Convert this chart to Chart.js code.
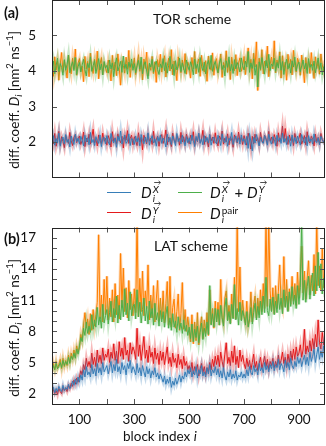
<!DOCTYPE html>
<html>
<head>
<meta charset="utf-8">
<script src="https://cdn.jsdelivr.net/npm/chart.js@4/dist/chart.umd.min.js"></script>
<style>
body{margin:0;width:326px;height:446px;position:relative;background:#fff;overflow:hidden;font-family:Lato,"DejaVu Sans",sans-serif;color:#111}
canvas{position:absolute;left:0}
.t{position:absolute;white-space:nowrap;font-size:14px;line-height:14px}
.tag{font-weight:bold;font-size:14.5px}
.ylab{position:absolute;white-space:nowrap;font-size:13.5px;transform:translate(-50%,-50%) rotate(-90deg)}
.ylab sup{font-size:9.5px;vertical-align:6px;line-height:0}
.ylab sub{font-size:9.5px;vertical-align:-3px;line-height:0}
.sw{position:absolute;width:24px;height:0;border-top:1.5px solid}
.m{position:absolute;white-space:nowrap;font-size:15px;line-height:15px}
.ss{display:inline-block;position:relative;width:10px;height:1px;vertical-align:baseline}
.sp,.sb{position:absolute;left:1px;font-size:10px;line-height:10px}
.sp{bottom:4px}
.sb{bottom:-5px;font-style:italic}
.vec{position:relative;font-style:italic}
.vec:before{content:"\2192";position:absolute;left:1px;top:-5px;font-size:7.5px;font-style:normal}
</style>
</head>
<body>
<canvas id="torChart" width="326" height="180" style="top:0"></canvas>
<canvas id="latChart" width="326" height="226" style="top:220px"></canvas>

<div class="t tag" style="left:4px;top:6px">(a)</div>
<div class="t tag" style="left:4px;top:232px">(b)</div>
<div class="t" style="left:153px;top:12px">TOR scheme</div>
<div class="t" style="left:154px;top:239px">LAT scheme</div>
<div class="ylab" style="left:14px;top:100px">diff. coeff. <i>D<sub>i</sub></i> [nm<sup>2</sup> ns<sup>−1</sup>]</div>
<div class="ylab" style="left:14px;top:328px">diff. coeff. <i>D<sub>i</sub></i> [nm<sup>2</sup> ns<sup>−1</sup>]</div>
<div class="t" style="left:123px;top:429px;font-size:13.5px">block index <i>i</i></div>

<div class="sw" style="left:107px;top:192px;border-color:#377eb8"></div>
<div class="sw" style="left:107px;top:212px;border-color:#e41a1c"></div>
<div class="sw" style="left:178px;top:192px;border-color:#4daf4a"></div>
<div class="sw" style="left:178px;top:212px;border-color:#ff7f00"></div>
<div class="m" style="left:141px;top:185px"><i>D</i><span class="ss"><span class="sp"><span class="vec">X</span></span><span class="sb">i</span></span></div>
<div class="m" style="left:141px;top:206px"><i>D</i><span class="ss"><span class="sp"><span class="vec">Y</span></span><span class="sb">i</span></span></div>
<div class="m" style="left:210px;top:185px"><i>D</i><span class="ss"><span class="sp"><span class="vec">X</span></span><span class="sb">i</span></span> + <i>D</i><span class="ss"><span class="sp"><span class="vec">Y</span></span><span class="sb">i</span></span></div>
<div class="m" style="left:210px;top:206px"><i>D</i><span class="ss" style="width:20px"><span class="sp">pair</span><span class="sb">i</span></span></div>

<script>
// block index of every stored value (every 5th block)
var blockIndex = [];
for (var k = 0; k < 200; k++) blockIndex.push(k * 5);

// (a) TOR scheme
var torDx = [
2.02,2.18,1.91,2.10,1.97,2.25,1.88,2.06,2.14,1.95,2.21,1.99,2.08,1.86,2.17,2.03,1.93,2.22,2.01,2.11,
1.94,2.16,2.05,1.89,2.19,2.00,2.12,1.92,2.27,1.98,2.07,1.90,2.15,2.04,1.96,2.20,1.87,2.09,2.13,1.95,
2.18,2.01,1.92,2.24,2.06,1.97,2.11,1.85,2.16,2.03,2.31,1.94,2.08,2.19,1.96,2.02,2.23,1.90,2.10,2.05,
1.93,2.17,2.00,2.12,1.89,2.21,2.04,1.95,2.14,1.99,2.26,1.91,2.07,2.18,1.97,2.09,1.88,2.15,2.02,2.20,
1.96,2.11,2.04,1.86,2.22,2.00,2.13,1.93,2.17,2.06,1.90,2.24,2.01,2.10,1.95,2.19,2.03,1.89,2.15,1.98,
2.12,1.94,2.20,2.05,1.87,2.16,2.02,2.25,1.96,2.09,1.92,2.18,2.00,2.13,1.97,2.21,1.91,2.07,2.14,2.01,
1.95,2.19,2.06,1.90,2.23,2.03,1.98,2.15,1.88,2.11,2.04,2.27,1.93,2.08,2.17,1.99,2.12,1.94,2.20,2.02,
2.09,1.92,2.16,1.82,2.24,2.00,1.75,2.13,1.97,2.21,2.05,1.89,2.14,2.01,1.96,2.18,2.07,1.91,2.22,2.03,
1.94,2.15,2.08,1.90,2.19,2.02,2.12,1.96,2.25,2.00,2.10,1.93,2.16,2.05,1.88,2.20,1.99,2.13,1.95,2.17,
2.04,1.91,2.21,2.06,1.97,2.14,1.89,2.18,2.01,2.09,1.94,2.23,2.03,1.98,2.12,1.92,2.16,2.07,1.99,2.05];
var torDy = [
2.12,1.95,2.24,1.88,2.07,2.30,1.92,2.15,2.01,1.84,2.19,2.06,1.96,2.27,2.03,1.90,2.13,2.21,1.98,2.09,
2.17,1.93,2.05,2.28,1.87,2.11,2.00,2.22,1.94,2.14,2.36,1.97,2.08,1.89,2.20,2.04,1.95,2.25,2.02,2.10,
1.91,2.18,2.06,1.86,2.29,2.01,2.12,1.94,2.23,2.07,1.98,2.16,1.83,2.20,2.05,2.32,1.96,2.10,2.19,1.92,
2.15,2.03,1.90,2.26,2.00,2.13,1.78,2.19,2.08,1.95,2.24,2.02,2.11,1.93,2.30,1.99,2.06,2.17,1.88,2.12,
2.21,1.96,2.09,2.34,1.92,2.14,2.03,1.87,2.25,2.05,1.98,2.18,2.10,1.91,2.27,2.00,2.15,1.94,2.22,2.07,
1.95,2.19,2.04,2.29,1.90,2.12,2.01,2.24,1.97,2.08,2.33,1.93,2.16,2.05,1.86,2.21,2.03,2.14,1.96,2.26,
2.02,1.89,2.17,2.07,2.31,1.94,2.11,2.00,2.23,1.92,2.15,2.06,1.85,2.20,2.09,1.97,2.28,2.01,2.13,1.93,
2.18,2.04,1.91,2.25,2.08,1.80,2.16,1.95,2.22,2.03,2.12,1.90,2.27,2.05,1.98,2.19,2.10,1.94,2.30,2.02,
2.14,1.96,2.21,2.07,1.88,2.26,2.01,2.13,2.45,1.99,2.38,2.06,1.93,2.20,2.04,2.15,1.90,2.24,2.08,1.97,
2.11,2.25,1.94,2.05,2.18,1.92,2.29,2.03,1.97,2.16,2.08,1.89,2.22,2.01,2.13,1.95,2.24,2.06,2.00,2.10];
var torDsum = [
4.05,4.28,3.92,4.15,4.36,3.98,4.21,4.10,3.88,4.32,4.02,4.19,4.45,3.95,4.14,4.26,4.01,4.38,3.90,4.12,
4.24,3.97,4.17,4.33,4.04,3.86,4.22,4.09,4.40,3.99,4.15,4.29,3.93,4.11,4.35,4.03,4.20,3.89,4.27,4.08,
4.16,3.94,4.31,4.06,4.23,3.84,4.18,4.37,4.00,4.13,4.27,3.96,4.42,4.07,4.19,3.91,4.25,4.10,4.34,4.02,
4.21,3.95,4.14,4.30,4.05,4.39,3.92,4.17,4.26,4.00,3.78,4.22,4.11,4.33,3.97,4.16,4.28,4.04,3.90,4.20,
4.09,4.35,4.01,4.24,3.94,4.15,4.41,4.06,4.19,3.87,4.29,4.03,4.12,4.36,3.98,4.23,4.08,3.93,4.31,4.14,
4.02,4.26,4.11,3.89,4.34,4.07,4.20,3.96,4.38,4.13,4.01,4.25,3.92,4.18,4.30,4.05,4.44,3.99,4.16,4.27,
4.08,3.95,4.22,4.35,4.04,4.17,3.86,4.29,4.10,4.40,4.00,4.19,3.93,4.32,4.06,4.24,4.12,3.97,4.37,4.15,
4.03,4.28,4.11,4.55,3.96,4.23,4.07,4.34,3.88,4.18,3.55,4.26,4.05,4.38,4.14,3.91,4.30,4.09,4.47,4.01,
4.20,4.13,4.36,3.99,4.24,4.08,4.42,4.02,4.27,3.90,4.16,4.33,4.05,4.21,3.94,4.29,4.11,4.39,4.00,4.18,
4.25,3.98,4.14,4.31,4.06,4.22,3.93,4.35,4.10,4.19,4.02,4.28,3.95,4.16,4.37,4.04,4.23,3.89,4.12,4.07];
var torDpair = [
4.12,3.85,4.40,4.02,4.28,3.74,4.18,4.52,3.96,4.30,4.08,3.80,4.45,4.15,3.92,4.36,4.05,4.62,3.88,4.22,
4.35,3.98,4.14,3.70,4.41,4.06,4.27,3.84,4.50,4.10,3.93,4.33,4.01,4.56,3.78,4.19,4.38,3.90,4.24,4.08,
3.95,4.31,4.12,3.72,4.44,4.03,4.25,3.87,4.48,4.09,3.60,4.29,4.15,3.94,4.39,4.05,4.58,3.82,4.21,4.11,
4.37,3.90,4.16,4.46,3.99,4.27,3.75,4.34,4.07,4.53,3.86,4.20,4.02,4.41,3.93,4.26,3.68,4.32,4.11,4.47,
3.97,4.23,4.43,3.83,4.14,4.36,4.00,4.60,3.89,4.28,4.09,3.73,4.40,4.17,3.95,4.31,4.04,4.49,3.91,4.25,
4.13,3.80,4.38,4.06,4.55,3.92,4.22,4.34,3.85,4.44,4.10,3.97,4.29,3.71,4.42,4.15,4.02,4.51,3.88,4.26,
4.35,3.94,4.18,4.48,3.82,4.24,4.08,4.57,3.96,4.30,3.76,4.39,4.12,4.01,4.46,3.87,4.23,4.37,3.99,4.14,
4.41,3.90,4.27,4.65,4.05,4.33,3.78,4.50,4.11,4.82,3.45,4.36,4.02,4.60,3.92,4.28,4.14,4.70,3.84,4.19,
4.39,4.06,4.85,3.95,4.31,4.12,4.54,3.80,4.43,4.02,4.25,3.74,4.47,4.09,4.33,3.89,4.58,4.16,3.97,4.36,
4.22,3.88,4.45,4.10,3.67,4.38,4.04,4.29,3.93,4.52,4.13,3.79,4.40,4.07,4.26,3.91,4.48,4.17,4.00,4.30];

// (b) LAT scheme
var latDx = [
2.3,2.6,2.1,2.5,2.2,2.7,2.4,2.2,2.8,2.3,2.6,2.4,2.9,2.5,2.7,3.2,2.8,3.4,2.9,3.6,
3.1,3.8,3.3,4.3,3.6,4.6,3.8,4.1,3.6,4.8,3.9,4.4,3.7,4.9,4.0,4.5,3.8,5.0,4.1,4.4,
4.7,3.9,4.5,5.1,4.0,4.8,4.2,5.3,4.1,4.6,3.9,5.0,4.3,4.7,3.8,4.9,4.4,5.2,4.0,4.6,
4.3,3.8,4.9,4.0,4.5,3.7,4.7,4.1,3.6,4.6,3.9,4.4,3.5,4.2,3.8,4.5,3.6,4.0,3.4,3.9,
3.5,3.1,3.7,2.9,3.4,3.0,3.6,2.6,3.2,2.8,3.5,2.9,3.3,3.8,3.1,3.7,3.4,4.1,3.6,4.3,
3.9,4.5,3.6,4.2,3.8,4.6,3.5,4.3,3.9,4.7,3.7,4.1,3.6,4.5,3.9,4.8,3.7,4.3,4.0,4.6,
3.8,4.4,3.6,4.2,3.5,4.5,3.7,3.3,4.1,3.6,4.3,3.4,3.9,3.5,4.2,3.3,3.8,3.6,4.1,3.5,
3.9,3.5,4.3,3.7,4.6,4.0,3.8,4.7,4.1,4.4,3.8,4.9,4.2,4.5,4.0,5.0,4.3,4.7,4.1,4.8,
4.4,5.1,4.2,4.8,4.5,5.3,4.3,4.9,4.6,4.1,5.2,4.5,5.0,4.3,5.4,4.7,4.4,5.1,4.6,5.5,
4.9,5.4,4.6,5.2,5.7,4.8,5.5,4.7,6.0,5.1,5.6,6.3,5.0,5.8,6.5,5.3,6.1,5.5,6.6,5.8];
var latDy = [
2.1,2.4,2.0,2.3,1.9,2.5,2.2,2.0,2.6,2.3,2.5,2.2,2.8,2.5,3.0,2.7,3.3,2.9,3.5,3.1,
3.6,4.2,3.8,4.8,4.3,5.4,4.6,5.1,4.5,5.9,4.8,5.5,4.6,6.2,5.0,5.7,4.9,6.4,5.2,5.8,
5.5,6.3,5.0,6.0,5.4,6.8,5.2,6.1,4.9,7.0,5.6,6.4,5.3,7.4,5.7,6.2,5.1,6.9,5.8,6.5,
6.1,5.3,8.3,5.6,6.7,5.2,6.3,7.5,5.4,6.2,5.0,6.6,5.5,6.0,4.9,6.4,5.3,5.9,4.8,6.1,
5.2,6.0,4.8,5.7,6.5,4.9,5.5,4.6,5.9,5.0,5.4,4.5,5.8,4.8,5.3,4.4,5.6,4.7,5.1,4.3,
4.7,4.1,5.0,3.9,4.6,4.2,4.8,3.7,4.4,4.9,4.0,4.6,3.8,4.5,4.1,5.0,4.3,5.3,4.6,5.6,
4.8,5.7,4.6,6.0,5.1,4.5,5.8,6.9,4.9,5.5,4.7,6.1,5.0,6.6,4.8,5.6,4.5,6.2,5.1,5.7,
4.9,4.4,5.4,4.6,5.2,4.3,5.0,5.8,4.5,5.1,4.2,4.9,5.5,4.4,5.0,5.6,4.6,5.3,4.3,5.1,
4.7,5.4,4.5,5.1,4.6,5.7,4.8,5.2,6.0,4.9,5.5,4.6,5.8,5.0,6.1,5.2,6.3,5.3,6.5,5.6,
5.9,6.7,5.5,6.2,8.2,5.8,6.6,6.0,7.1,6.1,7.3,6.3,7.7,6.5,9.1,6.9,6.3,7.9,6.7,7.4];
var latDsum = [
4.2,4.7,4.3,4.9,4.4,4.6,5.0,4.5,5.2,4.7,5.1,4.8,5.5,4.9,5.6,5.3,5.9,5.4,6.3,5.8,
6.6,7.4,7.0,8.3,7.6,8.9,7.8,8.5,7.9,9.6,8.2,9.1,8.4,10.3,8.6,9.4,8.3,10.6,8.8,9.5,
10.1,8.7,9.8,10.9,8.9,10.2,9.3,11.4,8.8,10.5,9.1,11.0,9.4,12.1,9.6,10.7,9.0,11.8,9.5,10.4,
10.6,9.2,12.0,9.4,10.8,8.8,10.1,11.2,9.0,10.4,8.7,10.9,9.3,10.2,8.6,10.7,9.1,9.8,8.5,10.0,
8.9,9.9,8.4,9.6,10.4,8.3,9.3,8.1,9.7,8.4,9.0,7.9,9.4,8.2,8.8,7.8,9.1,8.0,8.6,7.6,
8.4,7.3,8.7,7.0,8.2,7.4,8.5,6.9,7.9,8.8,7.2,8.3,7.5,8.9,7.7,12.4,8.6,9.7,8.4,10.2,
8.9,10.1,8.6,10.5,9.3,8.5,10.3,11.2,9.0,9.9,8.7,10.6,9.2,12.5,9.1,10.2,8.6,10.8,9.0,10.0,
9.4,8.6,9.9,8.4,9.2,10.3,8.7,9.8,10.7,9.1,10.4,9.3,10.9,9.6,11.4,9.8,13.2,10.0,9.5,11.1,
9.9,11.3,9.6,10.9,9.8,11.6,10.1,11.2,9.7,12.0,10.3,11.4,9.9,11.8,10.4,12.3,10.6,11.5,10.2,12.4,
10.6,12.2,18.5,11.0,12.9,10.8,12.3,13.3,11.1,12.6,13.6,11.4,14.3,11.9,15.6,12.2,14.5,11.6,13.1,11.3];
var latDpair = [
4.1,4.9,4.3,5.1,4.4,4.8,5.3,4.4,5.4,4.6,5.2,4.7,5.7,5.0,5.9,5.3,6.2,5.5,6.6,6.0,
6.4,7.7,7.1,8.6,9.8,8.3,9.2,7.7,9.7,8.1,10.1,8.5,9.6,10.8,17.3,9.2,11.5,8.9,13.0,9.6,
13.3,9.1,11.2,9.4,12.0,8.9,12.6,9.6,11.5,9.2,15.5,10.3,14.1,9.9,12.2,9.3,12.9,10.1,11.6,9.5,
12.1,9.8,19.0,9.4,13.1,9.9,13.8,9.5,11.9,10.2,14.4,9.1,11.5,9.3,12.4,8.9,11.0,12.9,9.0,11.2,
9.2,11.9,8.8,10.7,12.8,8.6,13.3,8.4,10.3,11.1,8.3,9.9,11.6,8.1,9.7,12.7,8.2,10.1,8.0,9.4,
8.1,7.0,9.6,6.8,8.9,7.1,9.8,6.7,8.4,9.4,7.3,9.1,7.8,9.8,7.6,12.0,8.7,10.2,8.3,10.9,
8.9,10.8,8.6,13.0,9.3,8.7,11.2,11.9,9.1,10.5,8.8,11.6,9.3,13.2,9.2,18.5,9.9,14.2,9.1,11.0,
9.4,8.8,10.9,8.5,9.2,11.8,8.9,10.6,11.4,9.3,11.2,9.6,12.0,9.9,12.6,10.2,18.8,10.4,19.0,11.9,
10.0,12.2,9.7,12.4,10.2,11.8,14.4,10.6,10.1,15.2,10.4,13.0,10.0,12.1,10.6,13.3,10.9,12.6,10.5,13.7,
11.2,13.2,16.2,11.7,13.8,11.1,13.1,14.8,11.5,13.4,11.9,15.4,11.6,18.5,12.4,14.3,12.0,16.0,12.2,13.9];

var seriesLabels = ['D_i^X', 'D_i^Y', 'D_i^X + D_i^Y', 'D_i^pair'];
var seriesColors = ['#377eb8', '#e41a1c', '#4daf4a', '#ff7f00'];
var seriesFaint = ['rgba(55,126,184,0.3)', 'rgba(228,26,28,0.3)', 'rgba(77,175,74,0.3)', 'rgba(255,127,0,0.3)'];

var xTicks = [100, 200, 300, 400, 500, 600, 700, 800, 900];
var xTickLabels = [100, 300, 500, 700, 900];
var torYTicks = [2, 3, 4, 5];
var latYTicks = [2, 5, 8, 11, 14, 17];

function points(values) {
    return values.map(function (v, k) { return {x: blockIndex[k], y: v}; });
}

function buildDatasets(series) {
    var out = [];
    series.forEach(function (values, s) {
        // first dataset is drawn on top
        out.push({label: seriesLabels[s], data: points(values), borderColor: seriesColors[s],
            borderWidth: 1, pointRadius: 0, tension: 0});
        out.push({label: seriesLabels[s] + ' (band)', data: points(values), borderColor: seriesFaint[s],
            borderWidth: 3, pointRadius: 0, tension: 0});
    });
    return out;
}

// frame and inward ticks on all four sides
var frameTicks = {
    id: 'frameTicks',
    afterDatasetsDraw: function (chart) {
        var ctx = chart.ctx, a = chart.chartArea, x = chart.scales.x, y = chart.scales.y;
        ctx.save();
        ctx.strokeStyle = '#555';
        ctx.lineWidth = 1;
        ctx.beginPath();
        x.ticks.forEach(function (t) {
            var px = Math.round(x.getPixelForValue(t.value)) + 0.5;
            ctx.moveTo(px, a.bottom); ctx.lineTo(px, a.bottom - 5);
            ctx.moveTo(px, a.top); ctx.lineTo(px, a.top + 5);
        });
        y.ticks.forEach(function (t) {
            if (t.value > y.min && t.value < y.max) {
                var py = Math.round(y.getPixelForValue(t.value)) + 0.5;
                ctx.moveTo(a.left, py); ctx.lineTo(a.left + 5, py);
                ctx.moveTo(a.right, py); ctx.lineTo(a.right - 5, py);
            }
        });
        ctx.stroke();
        ctx.strokeStyle = '#262626';
        ctx.strokeRect(Math.round(a.left) + 0.5, Math.round(a.top) + 0.5,
            Math.round(a.right - a.left) - 1, Math.round(a.bottom - a.top) - 1);
        ctx.restore();
    }
};

function makeChart(id, series, yMin, yMax, yLabels, showX, padTop, xHeight) {
    return new Chart(document.getElementById(id), {
        type: 'line',
        data: {datasets: buildDatasets(series)},
        options: {
            responsive: false,
            animation: false,
            layout: {padding: {top: padTop, right: 1, left: 0, bottom: 0}},
            plugins: {legend: {display: false}, tooltip: {enabled: false}},
            scales: {
                x: {
                    type: 'linear', min: 0, max: 995,
                    grid: {display: false, drawTicks: false},
                    border: {display: false},
                    afterBuildTicks: function (s) { s.ticks = xTicks.map(function (v) { return {value: v}; }); },
                    ticks: {
                        display: showX, autoSkip: false, maxRotation: 0, padding: 8,
                        color: '#111', font: {family: 'Lato', size: 13.5},
                        callback: function (v) { return xTickLabels.indexOf(v) >= 0 ? String(v) : ''; }
                    },
                    afterFit: function (s) { s.height = xHeight; s.paddingLeft = 0; s.paddingRight = 0; }
                },
                y: {
                    min: yMin, max: yMax,
                    grid: {display: false, drawTicks: false},
                    border: {display: false},
                    ticks: {
                        stepSize: 1, autoSkip: false, padding: 16,
                        color: '#111', font: {family: 'Lato', size: 13.5},
                        callback: function (v) { return yLabels.indexOf(v) >= 0 ? String(v) : ''; }
                    },
                    afterFit: function (s) { s.width = 52; s.paddingTop = 0; s.paddingBottom = 0; }
                }
            }
        },
        plugins: [frameTicks]
    });
}

makeChart('torChart', [torDx, torDy, torDsum, torDpair], 1, 6, torYTicks, false, 0, 2.5);
makeChart('latChart', [latDx, latDy, latDsum, latDpair], 1, 18, latYTicks, true, 7.5, 42);
</script>
</body>
</html>
